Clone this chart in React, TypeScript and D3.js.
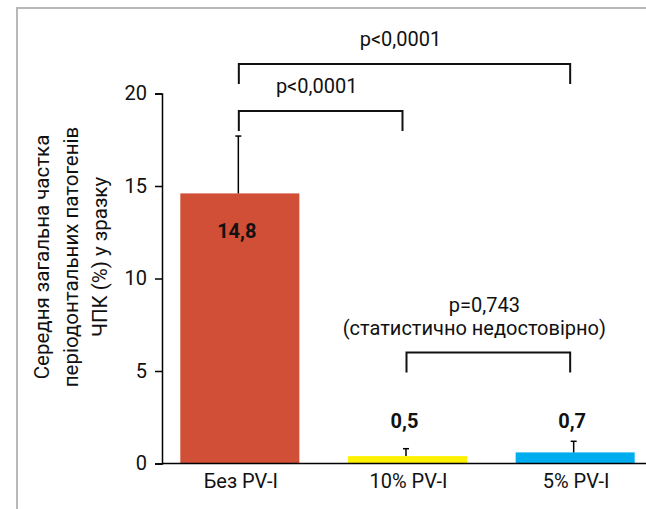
import React, { useRef, useEffect } from "react";
import * as d3 from "d3";

// дані з графіка
const categories = ["Без PV-I", "10% PV-I", "5% PV-I"];
const meanValues = [14.6, 0.4, 0.6];
const errorTops = [17.7, 0.8, 1.2];
const valueLabels = ["14,8", "0,5", "0,7"];
const barColors = ["#D14F37", "#FFF200", "#00AEEF"];
const yTicks = [0, 5, 10, 15, 20];
const yLabelLines = [
    "Середня загальна частка",
    "періодонтальних патогенів",
    "ЧПК (%) у зразку",
];
// порівняння: від, до, рівень, текст
const comparisons = [
    { from: 0, to: 2, level: 21.6, text: ["p<0,0001"] },
    { from: 0, to: 1, level: 19.05, text: ["p<0,0001"] },
    { from: 1, to: 2, level: 6.0, text: ["p=0,743", "(статистично недостовірно)"] },
];

const FONT = "Roboto, 'Noto Sans', sans-serif";

const App = () => {
    const svgRef = useRef<SVGSVGElement>(null);

    useEffect(() => {
        const svg = d3.select(svgRef.current);
        svg.selectAll("*").remove();

        const width = 646;

        // рамка
        svg.append("rect")
            .attr("x", 17)
            .attr("y", 8)
            .attr("width", 700)
            .attr("height", 600)
            .attr("fill", "none")
            .attr("stroke", "#b8b8b8")
            .attr("stroke-width", 2);

        const x = d3
            .scaleBand()
            .domain(categories)
            .range([156, 659])
            .paddingInner(0.29)
            .paddingOuter(0.145);

        const y = d3.scaleLinear().domain([0, 20]).range([463.5, 93.5]);

        const g = svg.append("g").style("font-family", FONT);

        // стовпці
        g.selectAll("rect.bar")
            .data(categories)
            .join("rect")
            .attr("class", "bar")
            .attr("x", (d) => x(d)!)
            .attr("width", x.bandwidth())
            .attr("y", (d, i) => y(meanValues[i]))
            .attr("height", (d, i) => y(0) - y(meanValues[i]))
            .attr("fill", (d, i) => barColors[i]);

        // планки похибок
        categories.forEach((c, i) => {
            const cx = x(c)! + x.bandwidth() / 2 - 1.5;
            g.append("line")
                .attr("x1", cx)
                .attr("x2", cx)
                .attr("y1", y(meanValues[i]))
                .attr("y2", y(errorTops[i]))
                .attr("stroke", "#000")
                .attr("stroke-width", 1.5);
            g.append("line")
                .attr("x1", cx - 3)
                .attr("x2", cx + 3)
                .attr("y1", y(errorTops[i]))
                .attr("y2", y(errorTops[i]))
                .attr("stroke", "#000")
                .attr("stroke-width", 1.5);
        });

        // вісь Y
        const yAxis = g
            .append("g")
            .attr("transform", "translate(162,0)")
            .call(d3.axisLeft(y).tickValues(yTicks).tickSize(7).tickPadding(8));
        yAxis.select(".domain").attr("stroke", "#000").attr("stroke-width", 1.5);
        yAxis.selectAll(".tick line").attr("stroke", "#000").attr("stroke-width", 1.5);
        yAxis
            .selectAll(".tick text")
            .attr("font-family", FONT)
            .attr("font-size", 20)
            .attr("fill", "#111");

        // базова лінія
        g.append("line")
            .attr("x1", 162)
            .attr("x2", width)
            .attr("y1", y(0))
            .attr("y2", y(0))
            .attr("stroke", "#000")
            .attr("stroke-width", 1.5);

        // підписи категорій
        g.selectAll("text.cat")
            .data(categories)
            .join("text")
            .attr("class", "cat")
            .attr("x", (d) => x(d)! + x.bandwidth() / 2 + 1)
            .attr("y", 488)
            .attr("text-anchor", "middle")
            .attr("font-size", 20)
            .attr("fill", "#111")
            .text((d) => d);

        // значення
        g.selectAll("text.val")
            .data(categories)
            .join("text")
            .attr("class", "val")
            .attr("x", (d) => x(d)! + x.bandwidth() / 2 - 3)
            .attr("y", (d, i) => (i === 0 ? 238 : 428))
            .attr("text-anchor", "middle")
            .attr("font-size", 20)
            .attr("font-weight", "bold")
            .attr("fill", "#111")
            .text((d, i) => valueLabels[i]);

        // дужки порівнянь
        comparisons.forEach((c) => {
            const x1 = x(categories[c.from])! + x.bandwidth() / 2 - 1;
            const x2 = x(categories[c.to])! + x.bandwidth() / 2 - 5;
            const yy = y(c.level);
            g.append("path")
                .attr("d", `M${x1},${yy + 20}V${yy}H${x2}V${yy + 20}`)
                .attr("fill", "none")
                .attr("stroke", "#111")
                .attr("stroke-width", 2);
            const mid = (x1 + x2) / 2;
            c.text.forEach((t, k) => {
                g.append("text")
                    .attr("x", mid - 4 - k * 10)
                    .attr("y", yy - 18 - (c.text.length - 1 - k) * 23)
                    .attr("text-anchor", "middle")
                    .attr("font-size", 20)
                    .attr("fill", "#111")
                    .text(t);
            });
        });

        // підпис осі Y
        const yl = g
            .append("text")
            .attr("transform", "translate(42,257) rotate(-90)")
            .attr("text-anchor", "middle")
            .attr("font-size", 20.5)
            .attr("fill", "#111");
        yLabelLines.forEach((l, i) => {
            yl.append("tspan")
                .attr("x", 0)
                .attr("dy", i === 0 ? 7 : 29)
                .text(l);
        });
    }, []);

    return (
        <svg
            ref={svgRef}
            width={646}
            height={509}
            style={{ position: "absolute", left: 0, top: 0 }}
        ></svg>
    );
};

export default App;
